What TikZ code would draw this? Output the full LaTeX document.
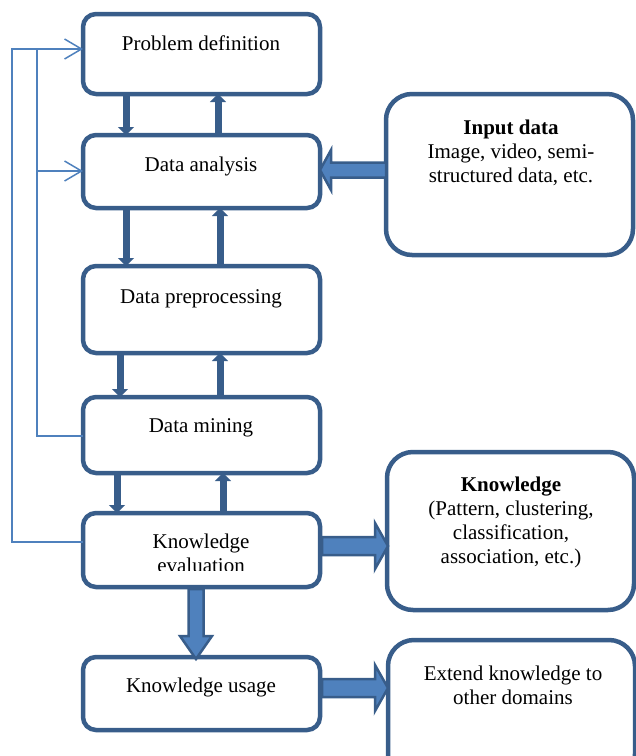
\documentclass[tikz,border=0pt]{standalone}
\usepackage{fontspec}
\setmainfont{Liberation Serif}
\usetikzlibrary{arrows.meta}
\definecolor{dk}{HTML}{385D8A}
\definecolor{lt}{HTML}{4F81BD}
\begin{document}
\begin{tikzpicture}[x=1pt,y=-1pt,
  lbox/.style={draw=dk,line width=4.5pt,rounded corners=13pt,minimum width=237pt,anchor=north west,inner sep=0pt,outer sep=0pt},
  rbox/.style={draw=dk,line width=4.5pt,rounded corners=26pt,minimum width=247pt,anchor=north west,inner sep=0pt,outer sep=0pt},
  txt/.style={font=\fontsize{21}{24}\selectfont,align=center,inner sep=0pt},
  thk/.style={draw=dk,line width=7pt,-{Triangle[width=16pt,length=8pt]}},
  fb/.style={draw=lt,line width=1.5pt},
  fbarrow/.style={fb,-{Straight Barb[length=17pt,width=20pt]}},
  blk/.style={fill=lt,draw=dk,line width=2.5pt,line join=miter}]
\useasboundingbox (0,0) rectangle (636,756);
\clip (0,0) rectangle (636,756);

% left boxes
\node[lbox,minimum height=80pt] (pd) at (83,14) {};
\node[lbox,minimum height=73pt] (da) at (83,135) {};
\node[lbox,minimum height=87pt] (dp) at (83,266) {};
\node[lbox,minimum height=76pt] (dm) at (83,397) {};
\node[lbox,minimum height=74pt] (ke) at (83,513) {};
\node[lbox,minimum height=73pt] (ku) at (83,657) {};

% right boxes
\node[rbox,minimum height=161pt] (in) at (386,94) {};
\node[rbox,minimum height=158pt] (kn) at (387,452) {};
\node[rbox,minimum height=140pt] (ex) at (388,640) {};

% texts
\node[txt] (pdt) at (201,43) {Problem definition};
\node[txt] (dat) at (201,166) {Data analysis};
\node[txt] (dpt) at (201,299) {Data preprocessing};
\node[txt] (dmt) at (201,428) {Data mining};
\begin{scope}
  \clip (85,515) rectangle (318,570);
  \node[txt] (ket) at (201,553) {Knowledge\\evaluation};
\end{scope}
\node[txt] (kut) at (201,687) {Knowledge usage};
\node[txt] (int) at (511,153) {\textbf{Input data}\\Image, video, semi-\\structured data, etc.};
\node[txt] (knt) at (511,522) {\textbf{Knowledge}\\(Pattern, clustering,\\classification,\\association, etc.)};
\node[txt] (ext) at (513,685) {Extend knowledge to\\other domains};

% x positions of vertical arrows
\coordinate (xd1) at (126,0); \coordinate (xu1) at (218,0);
\coordinate (xd2) at (126,0); \coordinate (xu2) at (220,0);
\coordinate (xd3) at (120,0); \coordinate (xu3) at (220,0);
\coordinate (xd4) at (117,0); \coordinate (xu4) at (223,0);

\draw[thk] (pd.south -| xd1) -- (da.north -| xd1);
\draw[thk] (da.north -| xu1) -- (pd.south -| xu1);
\draw[thk] (da.south -| xd2) -- (dp.north -| xd2);
\draw[thk] (dp.north -| xu2) -- (da.south -| xu2);
\draw[thk] (dp.south -| xd3) -- (dm.north -| xd3);
\draw[thk] (dm.north -| xu3) -- (dp.south -| xu3);
\draw[thk] (dm.south -| xd4) -- (ke.north -| xd4);
\draw[thk] (ke.north -| xu4) -- (dm.south -| xu4);

% feedback lines
\coordinate (xo) at (12,0); \coordinate (xi) at (37,0);
\coordinate (yo) at (0,542); \coordinate (yi) at (0,436);
\coordinate (yt) at (0,49); \coordinate (yd) at (0,171);
\draw[fbarrow] (ke.west |- yo) -- (xo |- yo) -- (xo |- yt) -- (pd.west |- yt);
\draw[fb] (dm.west |- yi) -- (xi |- yi) -- (xi |- yt);
\draw[fbarrow] (xi |- yd) -- (da.west |- yd);

% block arrows
\filldraw[blk] (386,162.5) -- (331,162.5) -- (331,150) -- (320,170) -- (331,190) -- (331,177.5) -- (386,177.5) -- cycle;
\filldraw[blk] (322,537) -- (375,537) -- (375,523) -- (388,546) -- (375,569) -- (375,555) -- (322,555) -- cycle;
\filldraw[blk] (322,679) -- (375,679) -- (375,665) -- (388,688) -- (375,711) -- (375,697) -- (322,697) -- cycle;
\filldraw[blk] (188.5,589) -- (188.5,636) -- (180,636) -- (196,659) -- (212,636) -- (203.5,636) -- (203.5,589) -- cycle;
\end{tikzpicture}
\end{document}
